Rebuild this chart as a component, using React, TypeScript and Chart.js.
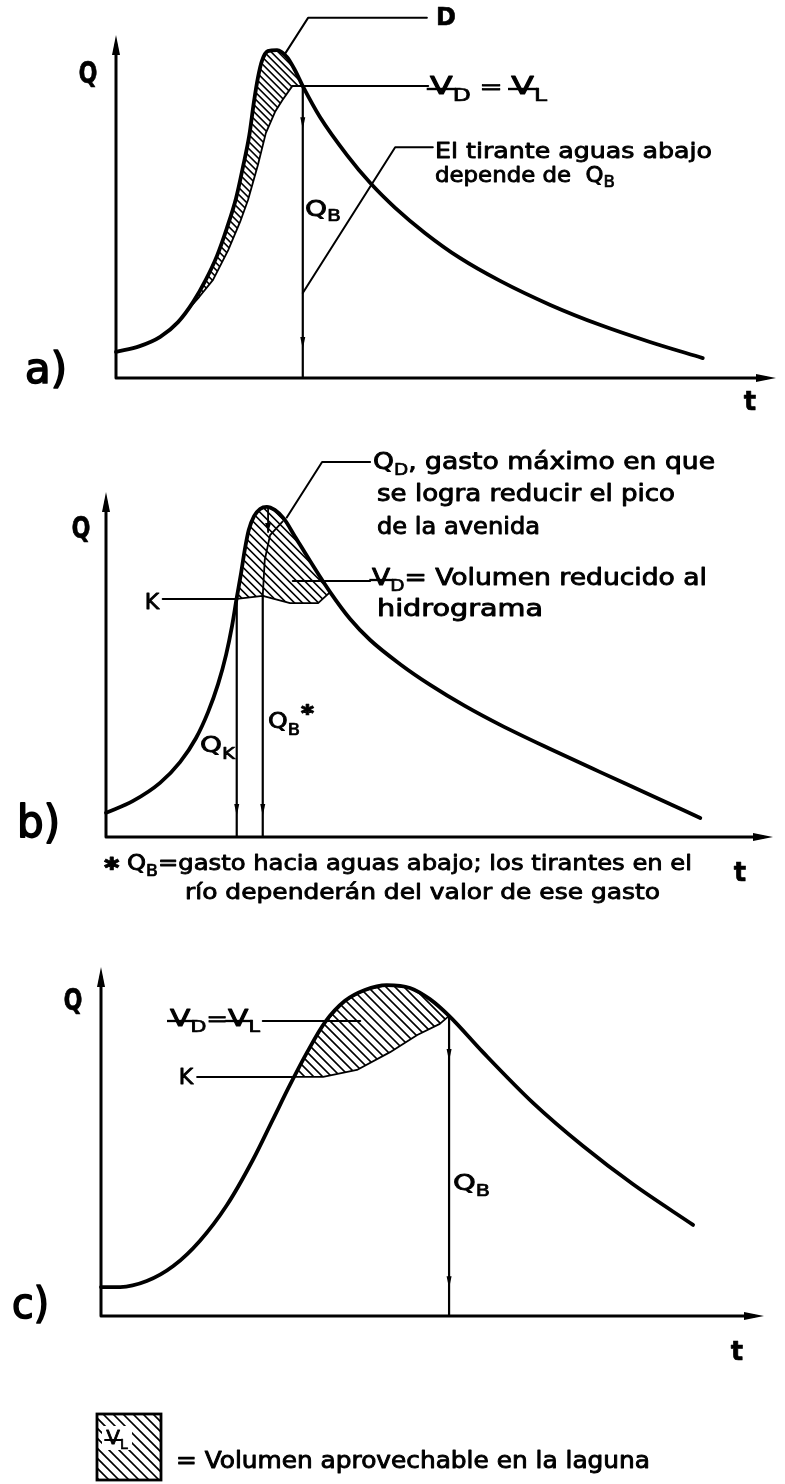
import React, { useEffect, useRef } from "react";
import { Chart, registerables } from "chart.js";
Chart.register(...registerables);

const FONT = '"DejaVu Sans", "Liberation Sans", sans-serif';

// ---------------- Panel a) ----------------
const tA = [0, 3.6, 6.7, 9.4, 11.7, 13.6, 15.3, 16.8, 18.2, 19.2, 20.2, 20.9, 21.5, 22.1, 23.0, 24.4, 25.9, 27.1, 28.3, 30.9, 35.0, 38.5, 42.3, 46.8, 52.1, 58.2, 65.8, 73.3, 80.9, 88.9];
const qA = [7.6, 9.3, 12.0, 16.3, 22.2, 28.6, 35.6, 43.7, 52.5, 61.2, 70.8, 80.5, 87.5, 92.4, 95.3, 95.6, 93.6, 89.8, 85.1, 76.1, 65.0, 56.9, 49.6, 42.3, 35.0, 28.3, 21.3, 15.5, 10.5, 5.8];
const hatchInA_t = [11.1, 12.6, 14.7, 17.0, 18.8, 20.0, 21.5, 22.7, 24.1, 25.2, 26.7, 28.3];
const hatchInA_q = [20.4, 23.6, 28.6, 37.3, 45.5, 51.9, 62.1, 71.4, 77.6, 81.0, 85.1, 85.1];
const leadA_D_t = [25.6, 29.1, 47.1];
const leadA_D_q = [94.5, 105.0, 105.0];
const leadA_V_t = [26.7, 47.3];
const leadA_V_q = [85.1, 85.1];
const lineA_QB_t = [28.3, 28.3];
const lineA_QB_q = [85.1, 0];
const leadA_tir_t = [28.3, 42.3, 48.0];
const leadA_tir_q = [24.8, 67.3, 67.3];
const tickA_t = [28.3, 28.3];
const tickA_q = [74.3, 10.2];

// ---------------- Panel b) ----------------
const tB = [0, 4.0, 8.1, 11.1, 13.5, 15.3, 16.8, 18.0, 18.9, 19.6, 20.2, 20.8, 21.4, 22.2, 23.1, 24.1, 25.3, 26.7, 28.3, 30.6, 33.6, 36.6, 39.6, 44.1, 48.6, 53.8, 59.1, 66.6, 74.1, 81.6, 89.1];
const qB = [7.0, 10.4, 15.7, 21.7, 28.7, 36.2, 44.3, 52.8, 61.2, 69.3, 75.9, 83.2, 89.0, 93.0, 95.1, 95.7, 94.8, 92.2, 87.2, 80.0, 71.0, 63.2, 57.1, 50.1, 44.1, 38.0, 32.5, 25.5, 18.8, 12.2, 5.5];
const hatchInB_t = [19.6, 23.5, 27.6, 31.8, 33.6];
const hatchInB_q = [69.0, 69.9, 67.8, 67.8, 71.0];
const dividerB_t = [23.5, 23.8, 24.6, 26.5];
const dividerB_q = [69.9, 80.3, 87.5, 91.5];
const peakArrowB_t = [24.3, 24.3];
const peakArrowB_q = [95.4, 88.4];
const leadB_K_t = [8.5, 19.6];
const leadB_K_q = [69.0, 69.0];
const lineB_QK_t = [19.6, 19.6];
const lineB_QK_q = [69.0, 0];
const lineB_QB_t = [23.5, 23.5];
const lineB_QB_q = [69.9, 0];
const leadB_V_t = [28.0, 39.6];
const leadB_V_q = [74.2, 74.2];
const leadB_QD_t = [27.1, 32.4, 39.6];
const leadB_QD_q = [92.6, 108.7, 108.7];
const tickB_t = [19.6, 23.5];
const tickB_q = [7.8, 7.8];

// ---------------- Panel c) ----------------
const tC = [0, 2.9, 6.9, 10.9, 14.9, 19.0, 22.9, 25.9, 28.5, 31.1, 33.8, 36.8, 39.8, 43.1, 46.6, 49.6, 52.5, 57.6, 65.2, 72.7, 80.2, 89.3];
const qC = [8.3, 8.3, 10.0, 14.3, 21.5, 31.8, 44.7, 56.2, 66.2, 75.6, 84.2, 90.3, 93.4, 94.8, 94.0, 90.8, 86.0, 75.6, 61.0, 48.7, 37.8, 26.1];
const hatchInC_t = [29.1, 33.5, 38.6, 43.6, 47.7, 51.1, 52.5];
const hatchInC_q = [68.5, 68.5, 70.5, 75.6, 80.5, 83.7, 86.0];
const leadC_K_t = [14.5, 29.1];
const leadC_K_q = [68.5, 68.5];
const leadC_V_t = [24.4, 39.1];
const leadC_V_q = [84.5, 84.5];
const lineC_QB_t = [52.5, 52.5];
const lineC_QB_q = [86.0, 0];
const tickC_t = [52.5, 52.5];
const tickC_q = [74.8, 9.7];

// ---------------- helpers ----------------
type Part = { s: string; size: number; dy?: number; bold?: boolean; bar?: boolean };
type Label = { parts: Part[]; x: number; y: number; w?: number; align?: "left" | "center"; base?: CanvasTextBaseline };
const P = (s: string, size: number, extra: Partial<Part> = {}): Part => ({ s, size, ...extra });
const fontOf = (p: Part) => `${p.bold ? "bold " : ""}${p.size}px ${FONT}`;

function pts(t: number[], q: number[]) {
  return t.map((x, i) => ({ x, y: q[i] }));
}

function hatchPoly(ct: number[], cq: number[], it: number[], iq: number[]): [number, number][] {
  const t0 = it[0];
  const t1 = it[it.length - 1];
  const out: [number, number][] = [[t0, iq[0]]];
  ct.forEach((t, i) => {
    if (t > t0 && t < t1) out.push([t, cq[i]]);
  });
  for (let i = it.length - 1; i >= 1; i--) out.push([it[i], iq[i]]);
  return out;
}

function drawHatchLines(ctx: CanvasRenderingContext2D, minX: number, minY: number, maxX: number, maxY: number, step: number, lw: number) {
  const h = maxY - minY;
  ctx.beginPath();
  for (let c = minX - h - step; c < maxX + step; c += step) {
    ctx.moveTo(c, minY - 2);
    ctx.lineTo(c + h + 4, maxY + 2);
  }
  ctx.lineWidth = lw;
  ctx.strokeStyle = "#000";
  ctx.stroke();
}

function drawLabel(ctx: CanvasRenderingContext2D, lab: Label, top: number) {
  ctx.save();
  const widths = lab.parts.map((p) => {
    ctx.font = fontOf(p);
    return ctx.measureText(p.s).width;
  });
  const total = widths.reduce((a, b) => a + b, 0);
  const k = lab.w ? lab.w / total : 1;
  const x0 = lab.align === "center" ? lab.x - (total * k) / 2 : lab.x;
  ctx.translate(x0, lab.y - top);
  ctx.scale(k, 1);
  ctx.textBaseline = lab.base ?? "middle";
  ctx.fillStyle = "#000";
  ctx.strokeStyle = "#000";
  ctx.lineJoin = "round";
  let cx = 0;
  lab.parts.forEach((p, i) => {
    ctx.font = fontOf(p);
    const dy = p.dy ?? 0;
    ctx.fillText(p.s, cx, dy);
    ctx.lineWidth = p.bold ? 0.6 : Math.max(0.7, p.size * 0.04);
    ctx.strokeText(p.s, cx, dy);
    if (p.bar) {
      ctx.beginPath();
      ctx.lineWidth = Math.max(1.6, p.size * 0.1);
      ctx.moveTo(cx - p.size * 0.1, dy + 1);
      ctx.lineTo(cx + widths[i] + p.size * 0.1, dy + 1);
      ctx.stroke();
    }
    cx += widths[i];
  });
  ctx.restore();
}

type Line = { t: number[]; q: number[]; w: number; smooth?: boolean };
type Panel = {
  top: number;
  h: number;
  box: { L: number; R: number; B: number; T: number };
  lines: Line[];
  hatches: { poly: [number, number][]; step: number }[];
  ticks: { t: number[]; q: number[] };
  arrowTips?: { t: number; q: number }[];
  labels: Label[];
  legend?: boolean;
};

const PANELS: Panel[] = [
  {
    top: 0,
    h: 430,
    box: { L: 116, R: 776, B: 378, T: 35 },
    lines: [
      { t: tA, q: qA, w: 3.8, smooth: true },
      { t: leadA_D_t, q: leadA_D_q, w: 2 },
      { t: leadA_V_t, q: leadA_V_q, w: 2 },
      { t: lineA_QB_t, q: lineA_QB_q, w: 2.2 },
      { t: leadA_tir_t, q: leadA_tir_q, w: 2 },
    ],
    hatches: [{ poly: hatchPoly(tA, qA, hatchInA_t, hatchInA_q), step: 7 }],
    ticks: { t: tickA_t, q: tickA_q },
    labels: [
      { parts: [P("Q", 30, { bold: true })], x: 88, y: 75, w: 19, align: "center" },
      { parts: [P("a)", 42)], x: 25, y: 383, w: 42, base: "alphabetic" },
      { parts: [P("t", 26, { bold: true })], x: 750, y: 403, align: "center" },
      { parts: [P("D", 24, { bold: true })], x: 436, y: 19 },
      { parts: [P("V", 24, { bar: true }), P("D", 17, { dy: 9 }), P(" = ", 20), P("V", 24, { bar: true }), P("L", 17, { dy: 9 })], x: 430, y: 88, w: 117 },
      { parts: [P("El tirante aguas abajo", 22)], x: 435, y: 152, w: 277 },
      { parts: [P("depende de  Q", 22), P("B", 16, { dy: 7 })], x: 435, y: 176, w: 180 },
      { parts: [P("Q", 22), P("B", 16, { dy: 7 })], x: 305, y: 210, w: 36 },
    ],
  },
  {
    top: 430,
    h: 480,
    box: { L: 106, R: 773, B: 837, T: 492 },
    lines: [
      { t: tB, q: qB, w: 3.8, smooth: true },
      { t: dividerB_t, q: dividerB_q, w: 1.8 },
      { t: peakArrowB_t, q: peakArrowB_q, w: 1.8 },
      { t: leadB_K_t, q: leadB_K_q, w: 2 },
      { t: lineB_QK_t, q: lineB_QK_q, w: 2.2 },
      { t: lineB_QB_t, q: lineB_QB_q, w: 2.2 },
      { t: leadB_V_t, q: leadB_V_q, w: 2 },
      { t: leadB_QD_t, q: leadB_QD_q, w: 2 },
    ],
    hatches: [{ poly: hatchPoly(tB, qB, hatchInB_t, hatchInB_q), step: 8 }],
    ticks: { t: tickB_t, q: tickB_q },
    arrowTips: [{ t: peakArrowB_t[1], q: peakArrowB_q[1] }],
    labels: [
      { parts: [P("Q", 30, { bold: true })], x: 81, y: 530, w: 19, align: "center" },
      { parts: [P("b)", 44)], x: 17, y: 837, w: 43, base: "alphabetic" },
      { parts: [P("t", 26, { bold: true })], x: 740, y: 874, align: "center" },
      { parts: [P("K", 22)], x: 152, y: 603, align: "center" },
      { parts: [P("Q", 23), P("D", 16, { dy: 8 }), P(", gasto máximo en que", 23)], x: 373, y: 463, w: 342 },
      { parts: [P("se logra reducir el pico", 23)], x: 377, y: 495, w: 298 },
      { parts: [P("de la avenida", 23)], x: 377, y: 528, w: 163 },
      { parts: [P("V", 23, { bar: true }), P("D", 16, { dy: 8 }), P("= Volumen reducido al", 23)], x: 372, y: 579, w: 335 },
      { parts: [P("hidrograma", 23)], x: 377, y: 610, w: 166 },
      { parts: [P("Q", 21), P("K", 15, { dy: 8 })], x: 200, y: 747, w: 35 },
      { parts: [P("Q", 21), P("B", 15, { dy: 8 }), P("✱", 15, { dy: -12 })], x: 268, y: 723, w: 47 },
      { parts: [P("✱ ", 18), P("Q", 21), P("B", 15, { dy: 7 }), P("=gasto hacia aguas abajo; los tirantes en el", 21)], x: 103, y: 865, w: 589 },
      { parts: [P("río dependerán del valor de ese gasto", 21)], x: 185, y: 894, w: 475 },
    ],
  },
  {
    top: 910,
    h: 574,
    box: { L: 101, R: 764, B: 1316, T: 967 },
    lines: [
      { t: tC, q: qC, w: 3.8, smooth: true },
      { t: leadC_K_t, q: leadC_K_q, w: 2 },
      { t: leadC_V_t, q: leadC_V_q, w: 2 },
      { t: lineC_QB_t, q: lineC_QB_q, w: 2.2 },
    ],
    hatches: [{ poly: hatchPoly(tC, qC, hatchInC_t, hatchInC_q), step: 9 }],
    ticks: { t: tickC_t, q: tickC_q },
    labels: [
      { parts: [P("Q", 30, { bold: true })], x: 73, y: 1002, w: 19, align: "center" },
      { parts: [P("c)", 42)], x: 12, y: 1318, w: 37, base: "alphabetic" },
      { parts: [P("t", 26, { bold: true })], x: 737, y: 1353, align: "center" },
      { parts: [P("V", 23, { bar: true }), P("D", 16, { dy: 8 }), P("=", 20), P("V", 23, { bar: true }), P("L", 16, { dy: 8 })], x: 170, y: 1020, w: 90 },
      { parts: [P("K", 22)], x: 186, y: 1078, align: "center" },
      { parts: [P("Q", 21), P("B", 15, { dy: 7 })], x: 453, y: 1185, w: 37 },
      { parts: [P("= Volumen aprovechable en la laguna", 23)], x: 176, y: 1462, w: 474 },
    ],
    legend: true,
  },
];

function makeDeco(cfg: Panel) {
  return {
    id: "deco",
    beforeDatasetsDraw(chart: any) {
      const ctx: CanvasRenderingContext2D = chart.ctx;
      const xs = chart.scales.x;
      const ys = chart.scales.y;
      cfg.hatches.forEach((hh) => {
        const p = hh.poly.map(([t, q]) => [xs.getPixelForValue(t), ys.getPixelForValue(q)]);
        ctx.save();
        ctx.beginPath();
        p.forEach(([x, y], i) => (i ? ctx.lineTo(x, y) : ctx.moveTo(x, y)));
        ctx.closePath();
        ctx.lineWidth = 1.8;
        ctx.lineJoin = "round";
        ctx.strokeStyle = "#000";
        ctx.stroke();
        ctx.clip();
        const xsP = p.map((v) => v[0]);
        const ysP = p.map((v) => v[1]);
        drawHatchLines(ctx, Math.min(...xsP), Math.min(...ysP), Math.max(...xsP), Math.max(...ysP), hh.step, 1.6);
        ctx.restore();
      });
    },
    afterDatasetsDraw(chart: any) {
      const ctx: CanvasRenderingContext2D = chart.ctx;
      const xs = chart.scales.x;
      const ys = chart.scales.y;
      const x0 = xs.getPixelForValue(0);
      const x1 = xs.getPixelForValue(100);
      const y0 = ys.getPixelForValue(0);
      const y1 = ys.getPixelForValue(100);
      ctx.save();
      ctx.strokeStyle = "#000";
      ctx.fillStyle = "#000";
      ctx.lineCap = "round";
      ctx.lineWidth = 3;
      ctx.beginPath();
      ctx.moveTo(x0, y0);
      ctx.lineTo(x1 - 10, y0);
      ctx.moveTo(x0, y0);
      ctx.lineTo(x0, y1 + 10);
      ctx.stroke();
      ctx.beginPath();
      ctx.moveTo(x1, y0);
      ctx.lineTo(x1 - 20, y0 - 4);
      ctx.lineTo(x1 - 20, y0 + 4);
      ctx.closePath();
      ctx.fill();
      ctx.beginPath();
      ctx.moveTo(x0, y1);
      ctx.lineTo(x0 - 4, y1 + 20);
      ctx.lineTo(x0 + 4, y1 + 20);
      ctx.closePath();
      ctx.fill();
      cfg.ticks.t.forEach((t, i) => {
        const px = xs.getPixelForValue(t);
        const py = ys.getPixelForValue(cfg.ticks.q[i]);
        ctx.beginPath();
        ctx.moveTo(px, py + 6);
        ctx.lineTo(px - 2.5, py - 6);
        ctx.lineTo(px + 2.5, py - 6);
        ctx.closePath();
        ctx.fill();
      });
      (cfg.arrowTips || []).forEach((a) => {
        const px = xs.getPixelForValue(a.t);
        const py = ys.getPixelForValue(a.q);
        ctx.beginPath();
        ctx.moveTo(px, py);
        ctx.lineTo(px - 3, py - 9);
        ctx.lineTo(px + 3, py - 9);
        ctx.closePath();
        ctx.fill();
      });
      ctx.restore();

      if (cfg.legend) {
        const bx = 97;
        const by = 1414 - cfg.top;
        const bw = 64;
        const bh = 66;
        ctx.save();
        ctx.beginPath();
        ctx.rect(bx, by, bw, bh);
        ctx.clip();
        drawHatchLines(ctx, bx, by, bx + bw, by + bh, 10, 1.6);
        ctx.fillStyle = "#fff";
        ctx.fillRect(bx + 5, by + 12, 30, 24);
        ctx.restore();
        ctx.save();
        ctx.lineWidth = 2.8;
        ctx.strokeStyle = "#000";
        ctx.strokeRect(bx, by, bw, bh);
        ctx.restore();
        drawLabel(ctx, { parts: [P("V", 20, { bar: true }), P("L", 14, { dy: 6 })], x: bx + 20, y: 1439, align: "center" }, cfg.top);
      }
      cfg.labels.forEach((l) => drawLabel(ctx, l, cfg.top));
    },
  };
}

function PanelChart({ cfg }: { cfg: Panel }) {
  const ref = useRef<HTMLCanvasElement | null>(null);
  useEffect(() => {
    if (!ref.current) return;
    const { box, top, h } = cfg;
    const chart = new Chart(ref.current, {
      type: "line",
      data: {
        datasets: cfg.lines.map((l) => ({
          data: pts(l.t, l.q),
          borderColor: "#000",
          borderWidth: l.w,
          pointRadius: 0,
          fill: false,
          tension: l.smooth ? 0.3 : 0,
          cubicInterpolationMode: l.smooth ? "monotone" : "default",
          borderCapStyle: "round",
          borderJoinStyle: "round",
          clip: false,
        })) as any,
      },
      options: {
        animation: false,
        responsive: false,
        maintainAspectRatio: false,
        devicePixelRatio: 1,
        events: [],
        layout: { padding: { left: box.L, right: 785 - box.R, top: box.T - top, bottom: top + h - box.B } },
        plugins: { legend: { display: false }, tooltip: { enabled: false } },
        scales: {
          x: { type: "linear", min: 0, max: 100, display: false },
          y: { type: "linear", min: 0, max: 100, display: false },
        },
      },
      plugins: [makeDeco(cfg) as any],
    });
    return () => chart.destroy();
  }, [cfg]);
  return (
    <canvas
      ref={ref}
      width={785}
      height={cfg.h}
      style={{ position: "absolute", left: 0, top: cfg.top, width: 785, height: cfg.h, display: "block" }}
    />
  );
}

export default function App() {
  return (
    <div style={{ position: "absolute", left: 0, top: 0, width: 785, height: 1484, background: "#fff", overflow: "hidden" }}>
      {PANELS.map((p, i) => (
        <PanelChart key={i} cfg={p} />
      ))}
    </div>
  );
}
